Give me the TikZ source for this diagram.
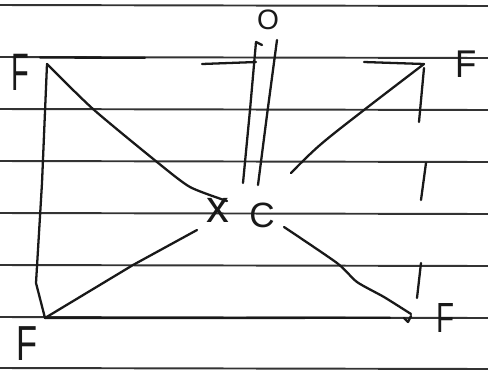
\documentclass[tikz,border=0pt]{standalone}
\usepackage{fontspec}
\setmainfont{Liberation Sans}
\begin{document}
\begin{tikzpicture}[x=0.02cm,y=-0.02cm,
  pen/.style={line width=1.3pt, line cap=round, line join=round, black!90},
  ruleline/.style={line width=1.1pt, black!80},
  lbl/.style={inner sep=0pt, black!90}]
\useasboundingbox (0,0) rectangle (488,370);
\fill[white] (0,0) rectangle (488,370);
% ruled paper lines
\foreach \y in {5,57,109,161,213,265,317,368}
  \draw[ruleline] (0,\y) -- (488,\y+1);
% named points
\coordinate (TL) at (47,64);
\coordinate (BL) at (45,318);
\coordinate (TR) at (424,64);
\coordinate (BRc) at (411,314);
\coordinate (xe) at (227,201);
\coordinate (xl) at (197,230);
\coordinate (ce) at (291,173);
\coordinate (cs) at (284,227);
% labels
\node[lbl, font=\fontsize{30}{30}\selectfont, xscale=0.55] (fTL) at (20,72) {F};
\node[lbl, font=\fontsize{22}{22}\selectfont, xscale=0.9] (fTR) at (466,64) {F};
\node[lbl, font=\fontsize{28}{28}\selectfont, xscale=0.7] (fBL) at (27,344) {F};
\node[lbl, font=\fontsize{24}{24}\selectfont, xscale=0.7] (fBR) at (446,318) {F};
\node[lbl, font=\fontsize{16}{16}\selectfont] (o) at (268,20) {O};
\node[lbl, font=\fontsize{26}{26}\selectfont] (x) at (218,210) {x};
\node[lbl, font=\fontsize{20}{20}\selectfont] (c) at (262,215) {C};
% pen lines
\draw[pen] (40,57.5) -- (145,57.8);
\draw[pen] plot[smooth, tension=0.4] coordinates {(TL) (93,109) (157,162) (190,187) (xe)};
\draw[pen] (TL) -- (42,183) -- (36,283) -- (BL);
\draw[pen] (BL) -- (133,265) -- (xl);
\draw[pen] (BL) -- (390,317.8);
\draw[pen] (202,64) -- (256,62);
\draw[pen] (364,62) -- (TR);
\draw[pen] plot[smooth, tension=0.6] coordinates {(TR) (364,110) (320,145) (ce)};
\draw[pen] (424,68) -- (419,122);
\draw[pen] (426,163) -- (421,200);
\draw[pen] (421,263) -- (417,298);
\draw[pen] plot[smooth, tension=0.4] coordinates {(cs) (337,263) (357,282) (384,297) (BRc)};
\draw[pen] (404,318) -- (408,322) -- (411,316);
% double vertical lines
\draw[pen] (262,45) -- (256,42) -- (250,110) -- (243,183);
\draw[pen] (277,40) -- (267,115) -- (258,185);
\end{tikzpicture}
\end{document}
